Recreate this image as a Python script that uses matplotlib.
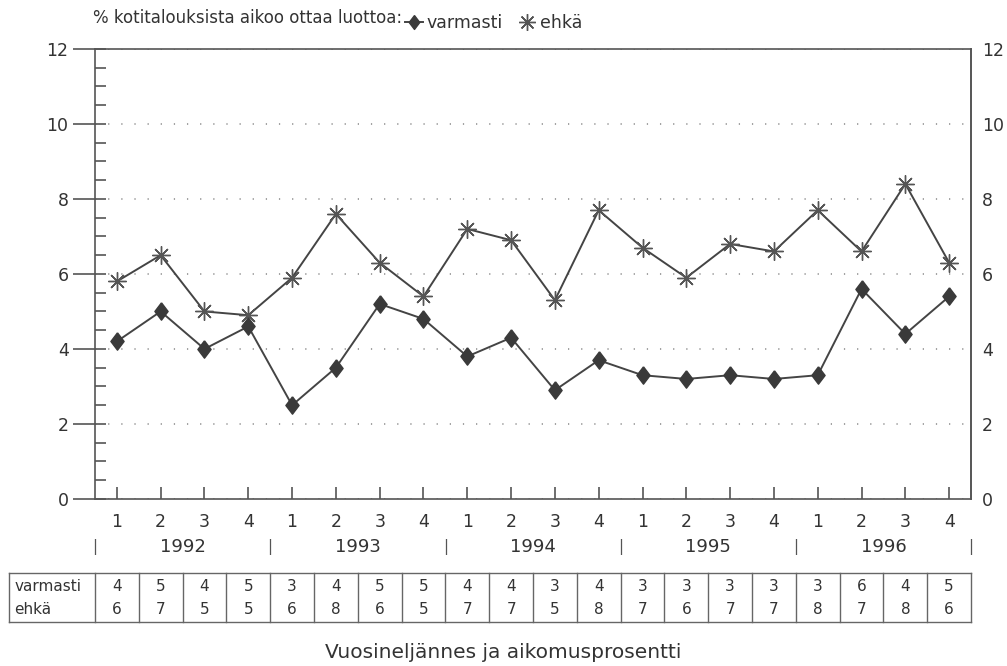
"""Kotitalouksien luotonottoaikeet vuosineljänneksittäin 1992-1996."""

import numpy as np
import matplotlib.pyplot as plt
from matplotlib.lines import Line2D
from matplotlib.ticker import MultipleLocator

years = ['1992', '1993', '1994', '1995', '1996']
quarters = ['1', '2', '3', '4']

# % kotitalouksista, jotka aikovat ottaa luottoa
varmasti = [4.2, 5.0, 4.0, 4.6, 2.5, 3.5, 5.2, 4.8, 3.8, 4.3,
            2.9, 3.7, 3.3, 3.2, 3.3, 3.2, 3.3, 5.6, 4.4, 5.4]
ehka = [5.8, 6.5, 5.0, 4.9, 5.9, 7.6, 6.3, 5.4, 7.2, 6.9,
        5.3, 7.7, 6.7, 5.9, 6.8, 6.6, 7.7, 6.6, 8.4, 6.3]

TEXT = '#333333'
LINE = '#444444'
AXIS = '#555555'

DIAMOND = [(0, 1), (0.76, 0), (0, -1), (-0.76, 0), (0, 1)]


def rounded(values):
    return [int(np.floor(v + 0.5)) for v in values]


def main() -> None:
    plt.rcParams['font.family'] = ['DejaVu Sans']
    plt.rcParams['text.color'] = TEXT

    x = np.arange(1, len(varmasti) + 1)

    fig = plt.figure(figsize=(10.07, 6.66), dpi=100)
    ax = fig.add_axes([0.0943, 0.2508, 0.8700, 0.6757])

    ax.plot(x, ehka, color=LINE, lw=1.4, marker=(8, 2, 0), ms=13,
            mec='#555555', mew=1.0, zorder=3)
    ax.plot(x, varmasti, color=LINE, lw=1.4, marker=DIAMOND, ms=12.5,
            mfc='#3a3a3a', mec='#3a3a3a', zorder=4)

    ax.set_xlim(0.5, len(x) + 0.5)
    ax.set_ylim(0, 12)

    for s in ax.spines.values():
        s.set_color(AXIS)
        s.set_linewidth(1.2)

    # y-akseli: pääjaot ulos, puolikkaat sisään
    ax.yaxis.set_major_locator(MultipleLocator(2))
    ax.yaxis.set_minor_locator(MultipleLocator(0.5))
    ax.yaxis.remove_overlapping_locs = False
    ax.tick_params(axis='y', which='major', direction='out', length=16,
                   width=1.2, color=AXIS, labelsize=12.5, labelcolor=TEXT, pad=3)
    ax.tick_params(axis='y', which='minor', direction='in', length=8,
                   width=1.2, color=AXIS)
    ax.yaxis.grid(True, which='major', color='#888888', lw=1.1,
                  linestyle=(0, (0.8, 7.8)))

    right = ax.secondary_yaxis('right')
    right.set_yticks(np.arange(0, 13, 2))
    right.tick_params(length=0, pad=8, labelsize=12.5, labelcolor=TEXT)
    right.spines['right'].set_color(AXIS)
    right.spines['right'].set_linewidth(1.2)

    ax.set_xticks(x)
    ax.set_xticklabels(quarters * len(years))
    ax.tick_params(axis='x', direction='in', length=9, width=1.2, color=AXIS,
                   labelsize=12.5, labelcolor=TEXT, pad=10)

    trans = ax.get_xaxis_transform()
    for i, year in enumerate(years):
        ax.text(4 * i + 2.5, -0.107, year, transform=trans, ha='center',
                va='center', fontsize=13)
    for i in range(len(years) + 1):
        ax.text(4 * i + 0.5, -0.107, '|', transform=trans, ha='center',
                va='center', fontsize=11, color=AXIS)

    # taulukko pyöristetyistä prosenteista
    top, bottom = -0.1644, -0.2733
    left = -1.463
    edge = dict(color='#666666', lw=1.0, transform=trans, clip_on=False)
    ax.plot([left, len(x) + 0.5], [top, top], **edge)
    ax.plot([left, len(x) + 0.5], [bottom, bottom], **edge)
    for xv in [left] + list(np.arange(0.5, len(x) + 1.0, 1.0)):
        ax.plot([xv, xv], [top, bottom], **edge)

    ax.text(left + 0.12, -0.1956, 'varmasti', transform=trans, ha='left',
            va='center', fontsize=11)
    ax.text(left + 0.12, -0.2467, 'ehkä', transform=trans, ha='left',
            va='center', fontsize=11)
    for xi, v, e in zip(x, rounded(varmasti), rounded(ehka)):
        ax.text(xi, -0.1956, str(v), transform=trans, ha='center',
                va='center', fontsize=11)
        ax.text(xi, -0.2467, str(e), transform=trans, ha='center',
                va='center', fontsize=11)

    title = fig.text(0.0924, 0.973, '% kotitalouksista aikoo ottaa luottoa:',
                     ha='left', va='center', fontsize=12)

    # selite heti otsikkotekstin perään
    fig.canvas.draw()
    bb = title.get_window_extent().transformed(fig.transFigure.inverted())
    handles = [
        Line2D([], [], color=LINE, lw=1.4, marker=DIAMOND, ms=10,
               mfc='#3a3a3a', mec='#3a3a3a'),
        Line2D([], [], ls='none', marker=(8, 2, 0), ms=12, mec='#555555',
               mew=1.0),
    ]
    fig.legend(handles, ['varmasti', 'ehkä'], loc='center left',
               bbox_to_anchor=(bb.x1 + 0.003, 0.966), ncol=2, frameon=False,
               fontsize=12.5, handlelength=1.0, handletextpad=0.25,
               columnspacing=0.9, borderpad=0, borderaxespad=0)

    fig.text(0.5, 0.021, 'Vuosineljännes ja aikomusprosentti', ha='center',
             va='center', fontsize=14.5)

    fig.savefig('out.png', dpi=100, facecolor='white')
    plt.close(fig)


if __name__ == '__main__':
    main()
